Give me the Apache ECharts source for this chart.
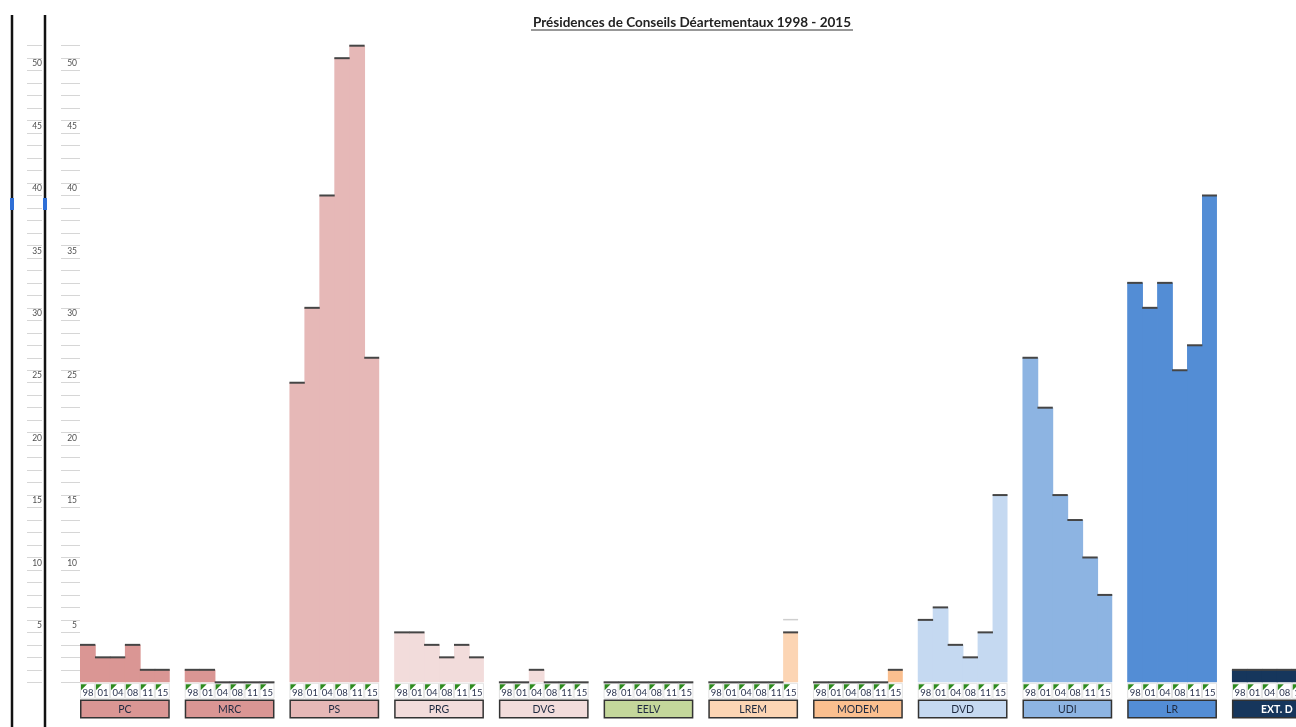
<!DOCTYPE html>
<html><head><meta charset="utf-8">
<script src="https://cdn.jsdelivr.net/npm/echarts@6.0.0/dist/echarts.min.js"></script>
<style>html,body{margin:0;padding:0;background:#fff}#c{width:1296px;height:727px}</style>
</head><body><div id="c"></div>
<script>
// ---- data ----
const title = 'Présidences de Conseils Déartementaux 1998 - 2015';
const years = ['98', '01', '04', '08', '11', '15'];
const parties = ['PC', 'MRC', 'PS', 'PRG', 'DVG', 'EELV', 'LREM', 'MODEM', 'DVD', 'UDI', 'LR', 'EXT. D'];
const PC = [3, 2, 2, 3, 1, 1];
const MRC = [1, 1, 0, 0, 0, 0];
const PS = [24, 30, 39, 50, 51, 26];
const PRG = [4, 4, 3, 2, 3, 2];
const DVG = [0, 0, 1, 0, 0, 0];
const EELV = [0, 0, 0, 0, 0, 0];
const LREM = [0, 0, 0, 0, 0, 4];
const MODEM = [0, 0, 0, 0, 0, 1];
const DVD = [5, 6, 3, 2, 4, 15];
const UDI = [26, 22, 15, 13, 10, 7];
const LR = [32, 30, 32, 25, 27, 39];
const EXTD = [1, 1, 1, 1, 1, 1];
const LREM_ghost = [null, null, null, null, null, 5];
const yMax = 51;
const yLabelStep = 5;

// ---- styles ----
const partyValues = [PC, MRC, PS, PRG, DVG, EELV, LREM, MODEM, DVD, UDI, LR, EXTD];
const partyColors = ['#da9694', '#da9694', '#e6b8b7', '#f2dcdb', '#f2dcdb', '#c4d79b',
  '#fcd5b4', '#fabf8f', '#c5d9f1', '#8db4e2', '#538dd5', '#16365c'];
const FONT = 'Lato, "Open Sans", sans-serif';
const SLOTS = parties.length * (years.length + 1) - 1;
const SLOT_W = 14.96;

const categories = [];
for (let g = 0; g < parties.length; g++) {
  years.forEach(y => categories.push(parties[g] + ' ' + y));
  if (g < parties.length - 1) categories.push('');
}
const barData = [];
partyValues.forEach((vals, g) => vals.forEach((v, yi) => barData.push([g * 7 + yi, v, g, yi])));
const ghostData = [];
LREM_ghost.forEach((v, yi) => { if (v != null) ghostData.push([6 * 7 + yi, v]); });

const chart = echarts.init(document.getElementById('c'), null, {renderer: 'canvas'});
const gTop = 45.7, gBottom = 727 - 682.3;
function sideAxis(idx) {
  return {
    type: 'value', gridIndex: idx, min: 0, max: yMax, interval: 1, position: 'right',
    axisLine: {show: false}, axisTick: {show: false},
    splitLine: {show: true, lineStyle: {color: '#d6d6d6', width: 1}},
    axisLabel: {
      inside: true, margin: idx === 0 ? 0 : 3, fontSize: 8.5, color: '#505050', fontFamily: FONT,
      verticalAlign: 'top', padding: [1, 0, 0, 0],
      formatter: v => (v > 0 && v % yLabelStep === 0) ? String(v) : ''
    }
  };
}
const option = {
  animation: false,
  grid: [
    {left: 27, width: 15, top: gTop, bottom: gBottom, outerBoundsMode: 'none'},
    {left: 61, width: 19, top: gTop, bottom: gBottom, outerBoundsMode: 'none'},
    {left: 80, width: SLOTS * SLOT_W, top: gTop, bottom: gBottom, outerBoundsMode: 'none', containLabel: false}
  ],
  xAxis: [
    {type: 'value', gridIndex: 0, show: false},
    {type: 'value', gridIndex: 1, show: false},
    {type: 'category', gridIndex: 2, data: categories, boundaryGap: true,
      axisLine: {show: false}, axisTick: {show: false}, axisLabel: {show: false}}
  ],
  yAxis: [sideAxis(0), sideAxis(1),
    {type: 'value', gridIndex: 2, min: 0, max: yMax, interval: 1, show: false, splitLine: {show: false}}],
  graphic: [
    {type: 'text', x: 692, y: 23, style: {text: title, font: 'bold 13.5px ' + FONT, fill: '#222', align: 'center', verticalAlign: 'middle'}},
    {type: 'line', shape: {x1: 531, y1: 30, x2: 853, y2: 30}, style: {stroke: '#333', lineWidth: 1}},
    {type: 'line', shape: {x1: 12, y1: 15, x2: 12, y2: 727}, style: {stroke: '#111', lineWidth: 2.5}},
    {type: 'line', shape: {x1: 45, y1: 15, x2: 45, y2: 727}, style: {stroke: '#111', lineWidth: 2.5}},
    {type: 'rect', shape: {x: 10, y: 198, width: 4, height: 12}, style: {fill: '#2f6fd6'}},
    {type: 'rect', shape: {x: 43, y: 198, width: 4, height: 12}, style: {fill: '#2f6fd6'}}
  ],
  series: [
    {
      type: 'custom', xAxisIndex: 2, yAxisIndex: 2, clip: false, data: barData,
      encode: {x: 0, y: 1},
      renderItem: function (params, api) {
        const x = api.value(0), v = api.value(1), g = api.value(2), yi = api.value(3);
        const top = api.coord([x, v]);
        const base = api.coord([x, 0]);
        const w = api.size([1, 0])[0];
        const left = top[0] - w / 2;
        const col = partyColors[g];
        const ch = [];
        const ext = yi < years.length - 1 ? 0.8 : 0;
        if (v > 0) ch.push({type: 'rect', shape: {x: left, y: top[1], width: w + ext, height: base[1] - top[1]}, style: {fill: col}});
        ch.push({type: 'rect', shape: {x: left, y: top[1] - 1, width: w + ext * 0.5, height: 2}, style: {fill: '#454545'}, z2: 5});
        const cy = base[1] + 1;
        ch.push({type: 'rect', shape: {x: left + 0.5, y: cy, width: w - 1, height: 15}, style: {fill: '#fff', stroke: '#e2e2e2', lineWidth: 1}});
        ch.push({type: 'polygon', shape: {points: [[left + 1, cy + 1], [left + 7, cy + 1], [left + 1, cy + 7]]}, style: {fill: '#2e8b1f'}});
        ch.push({type: 'text', style: {x: top[0] + 0.5, y: cy + 10, text: years[yi], font: '9.5px ' + FONT, fill: '#2c3550', align: 'center', verticalAlign: 'middle'}});
        if (yi === 0) {
          const by = base[1] + 18;
          const bw = w * years.length;
          ch.push({type: 'rect', shape: {x: left + 0.75, y: by, width: bw - 1.5, height: 17.5}, style: {fill: col, stroke: '#333', lineWidth: 1.5}});
          const dark = g === parties.length - 1;
          ch.push({type: 'text', style: {x: left + bw / 2, y: by + 9.2, text: parties[g],
            font: (dark ? 'bold ' : '') + '10.5px ' + FONT, fill: dark ? '#fff' : '#1f2a40', align: 'center', verticalAlign: 'middle'}});
        }
        return {type: 'group', children: ch};
      }
    },
    {
      type: 'custom', xAxisIndex: 2, yAxisIndex: 2, clip: false, data: ghostData,
      encode: {x: 0, y: 1},
      renderItem: function (params, api) {
        const p = api.coord([api.value(0), api.value(1)]);
        const w = api.size([1, 0])[0];
        return {type: 'rect', shape: {x: p[0] - w / 2, y: p[1] - 1, width: w, height: 1.5}, style: {fill: '#cfcfcf'}};
      }
    }
  ]
};
chart.setOption(option);
</script>
</body></html>
